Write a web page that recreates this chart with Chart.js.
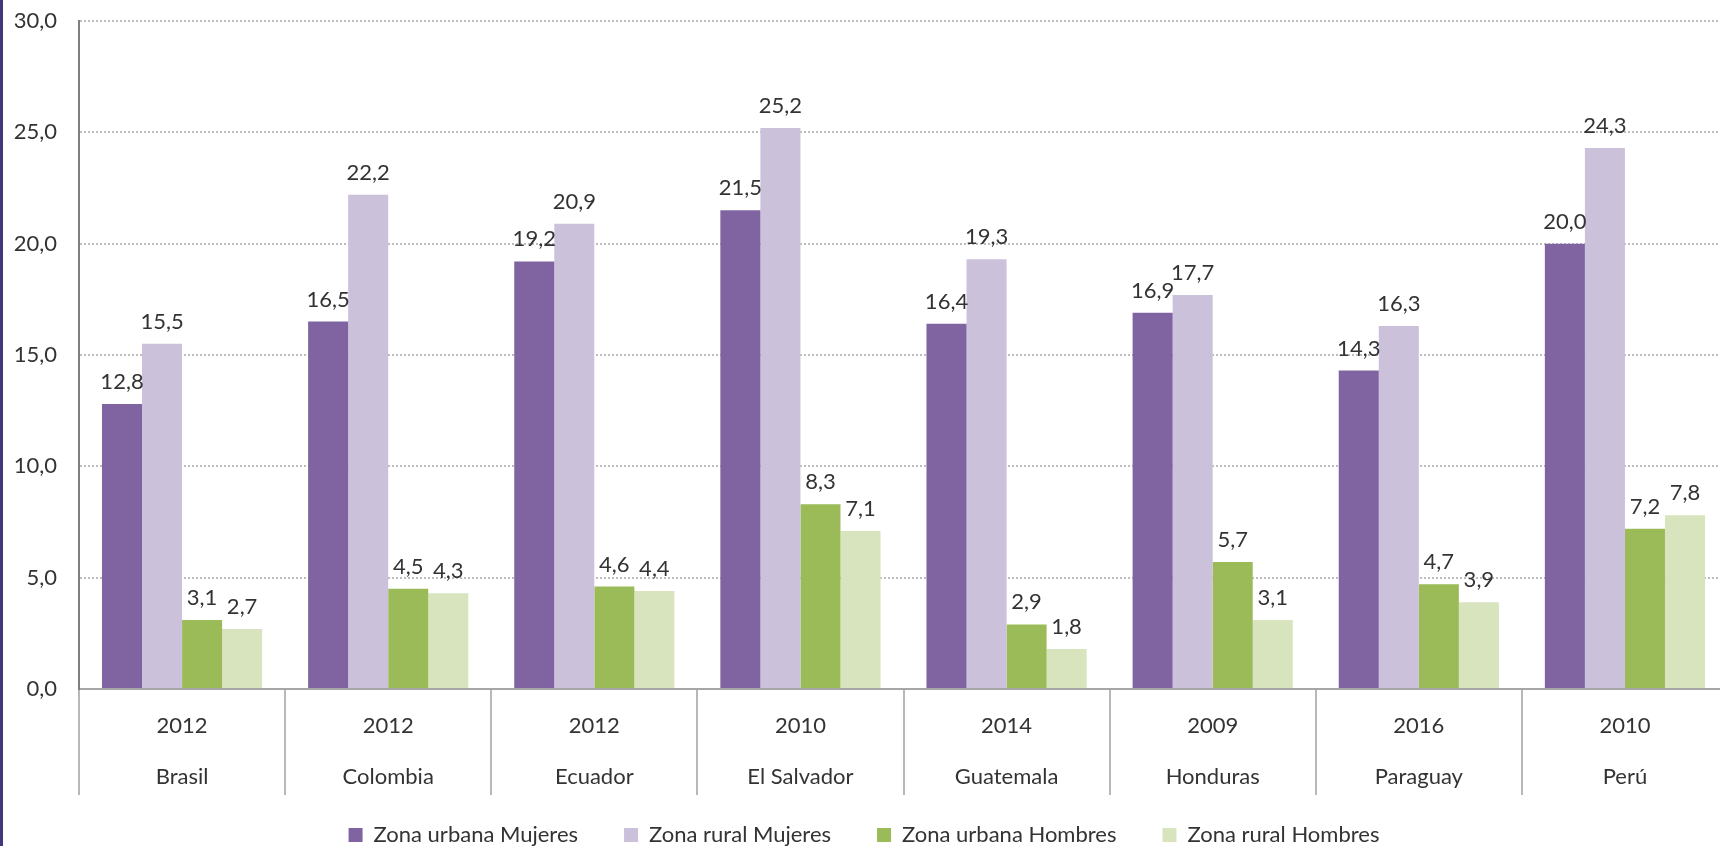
<!DOCTYPE html>
<html lang="es">
<head>
  <meta charset="UTF-8" />
  <title>Zona urbana y rural por sexo</title>
  <style>
    * { box-sizing: border-box; margin: 0; padding: 0; }
    html, body {
      width: 1720px; height: 846px;
      overflow: hidden;
      background: #fff;
    }
    #wrap {
      position: absolute; left: 0; top: 0;
      width: 1728px; height: 846px;
    }
    #edge {
      position: absolute; left: 0; top: 0;
      width: 3px; height: 846px;
      background: #44357f;
      z-index: 5;
    }
  </style>
</head>
<body>
  <div id="edge"></div>
  <div id="wrap"><canvas id="chart" width="1728" height="846"></canvas></div>

  <script src="https://cdn.jsdelivr.net/npm/chart.js"></script>
  <script>
    const years = ['2012', '2012', '2012', '2010', '2014', '2009', '2016', '2010'];
    const countries = ['Brasil', 'Colombia', 'Ecuador', 'El Salvador', 'Guatemala', 'Honduras', 'Paraguay', 'Perú'];

    const urbanaMujeres = [12.8, 16.5, 19.2, 21.5, 16.4, 16.9, 14.3, 20.0];
    const ruralMujeres  = [15.5, 22.2, 20.9, 25.2, 19.3, 17.7, 16.3, 24.3];
    const urbanaHombres = [3.1, 4.5, 4.6, 8.3, 2.9, 5.7, 4.7, 7.2];
    const ruralHombres  = [2.7, 4.3, 4.4, 7.1, 1.8, 3.1, 3.9, 7.8];

    const yTicks = [0, 5, 10, 15, 20, 25, 30];

    const fmt = v => v.toFixed(1).replace('.', ',');
    const FONT = 'Lato, Carlito, "Open Sans", sans-serif';
    const TEXT = '#333333';

    // value labels above each bar
    const valueLabels = {
      id: 'valueLabels',
      afterDatasetsDraw(chart) {
        const ctx = chart.ctx;
        ctx.save();
        ctx.font = '22px ' + FONT;
        ctx.fillStyle = TEXT;
        ctx.textAlign = 'center';
        ctx.textBaseline = 'alphabetic';
        chart.data.datasets.forEach((ds, i) => {
          const meta = chart.getDatasetMeta(i);
          meta.data.forEach((bar, j) => {
            ctx.fillText(fmt(ds.data[j]), bar.x, bar.y - 15);
          });
        });
        ctx.restore();
      }
    };

    const labels = years.map((y, i) => [y, countries[i]]);

    new Chart(document.getElementById('chart'), {
      type: 'bar',
      data: {
        labels: labels,
        datasets: [
          { label: 'Zona urbana Mujeres', data: urbanaMujeres, backgroundColor: '#8064a2' },
          { label: 'Zona rural Mujeres', data: ruralMujeres, backgroundColor: '#ccc1da' },
          { label: 'Zona urbana Hombres', data: urbanaHombres, backgroundColor: '#9bbb59' },
          { label: 'Zona rural Hombres', data: ruralHombres, backgroundColor: '#d7e4bd' }
        ]
      },
      options: {
        responsive: false,
        animation: false,
        devicePixelRatio: 1,
        layout: { padding: { top: 21, left: 0, right: 0, bottom: -10 } },
        datasets: {
          bar: { categoryPercentage: 0.777, barPercentage: 1.0, borderWidth: 0 }
        },
        scales: {
          x: {
            offset: true,
            grid: {
              offset: true,
              drawOnChartArea: false,
              drawTicks: true,
              tickLength: 106,
              color: '#b8b8b8',
              lineWidth: 2
            },
            border: { display: true, color: '#a6a6a6', width: 2 },
            ticks: {
              color: TEXT,
              font: { family: FONT, size: 22, lineHeight: 2.3 },
              padding: -94,
              maxRotation: 0,
              autoSkip: false
            },
            afterFit(scale) {
              scale.height = 89;
              // the two label rows run below the box, don't clip them
              scale._computeLabelArea = () => null;
            }
          },
          y: {
            min: 0,
            max: 30,
            afterBuildTicks(scale) { scale.ticks = yTicks.map(v => ({ value: v })); },
            grid: {
              drawTicks: false,
              color: ctx => ctx.tick && ctx.tick.value === 0 ? 'rgba(0,0,0,0)' : '#bdbdbd',
              lineWidth: 2
            },
            border: { display: true, color: '#7f7f7f', width: 2, dash: [2, 2] },
            ticks: {
              color: TEXT,
              font: { family: FONT, size: 22 },
              padding: 22,
              callback: v => fmt(v)
            },
            afterFit(scale) {
              scale.width = 79;
              scale.paddingTop = 0;
              scale.paddingBottom = 0;
            }
          }
        },
        plugins: {
          legend: {
            position: 'bottom',
            labels: {
              color: TEXT,
              font: { family: FONT, size: 22 },
              boxWidth: 14,
              boxHeight: 14,
              padding: 46
            }
          },
          tooltip: { enabled: false }
        }
      },
      plugins: [valueLabels]
    });
  </script>
</body>
</html>
